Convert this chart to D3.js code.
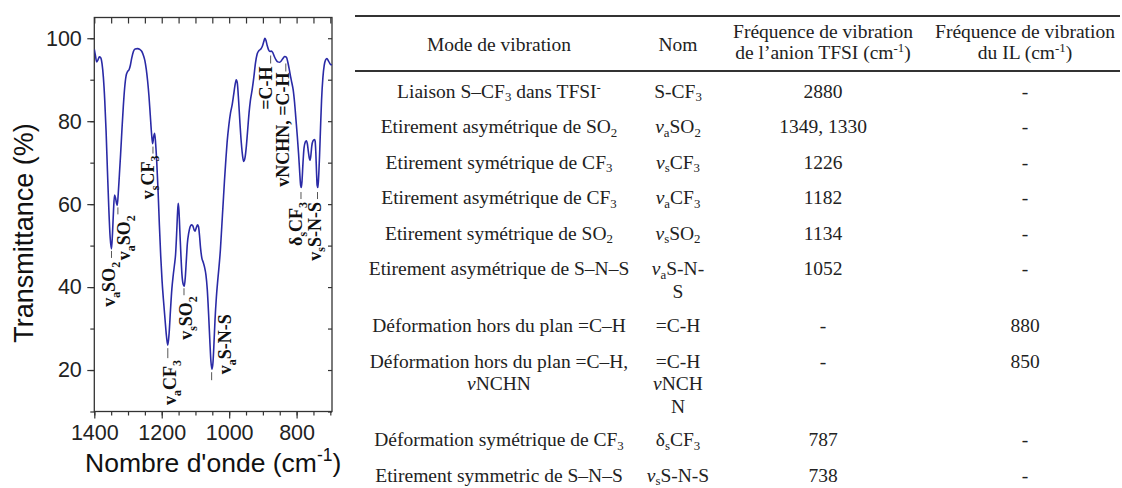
<!DOCTYPE html>
<html><head><meta charset="utf-8">
<script src="https://cdn.jsdelivr.net/npm/d3@7"></script>
<style>
html,body{margin:0;padding:0;background:#fff;}
svg{display:block;}
</style></head>
<body>
<svg id="c" width="1122" height="488"></svg>
<script>
// ---------------- DATA ----------------
const wavenumbers = [1400,1397,1393,1389,1385,1381,1377,1373,1369,1365,1361,1357,1353,1349,1346,1343,1340,1337,1334,1332,1329,1326,1322,1318,1314,1310,1306,1301,1297,1293,1289,1284,1279,1272,1265,1259,1254,1250,1246,1242,1238,1234,1230,1227,1224,1221,1218,1215,1211,1207,1203,1199,1195,1190,1186,1182,1178,1174,1170,1166,1162,1159,1156,1153,1151,1149,1146,1143,1140,1136,1133,1130,1127,1124,1120,1116,1112,1108,1104,1101,1098,1094,1091,1088,1085,1081,1077,1073,1069,1065,1061,1057,1054,1051,1048,1045,1042,1038,1034,1030,1026,1022,1018,1014,1010,1006,1001,996,991,987,983,979,976,972,968,964,960,957,953,949,945,941,937,932,927,922,917,912,906,901,897,894,891,887,883,879,875,871,866,861,856,850,845,840,835,830,826,822,818,814,810,806,802,798,794,791,788,786,784,781,778,774,771,768,765,762,760,758,755,751,747,745,743,741,739,737,735,732,729,726,722,718,714,710,706,702,698,695];
const transmittance = [97.3,96.0,94.3,94.8,95.5,95.3,93.8,90.5,85,77.5,68,59,52,49.2,53,58.5,62.2,61.5,60.2,59.7,62.5,66.5,72,78,83.5,88,90.8,92,92.4,93.5,95.2,96.8,97.4,97.5,97.3,96.8,95.8,94.6,92.6,89.8,86.2,81.5,76.8,74.6,76.2,77.1,74.5,70.5,63.5,55,47.5,41.5,37,32,28.2,26,29,34.5,39.5,42.8,45.5,47.8,52.5,58,60.2,58.5,53,47.5,43,40.6,40.2,42.5,46.5,50.5,53,54.5,55,54.8,53.8,53.5,54.2,55,54.6,52.5,49.5,47,46,44.8,43,39.5,33.5,26.5,22,20.2,21.8,26.5,32,37.5,41.5,45,49,54.5,60,65.5,70.5,75,79,82,84,86.2,88.5,90,89.3,85,79.5,74.8,71.5,70.3,71.2,74,78,82,85,87.5,90.5,94,96.2,97,97.4,98.2,99.3,100,99.5,98.2,97.2,96.8,96.9,96.6,95.6,94.8,94.3,94.2,94.6,95.2,95.6,95.4,94.2,92.6,90.8,89.2,87.5,84.5,80.5,76.5,72,68,64.5,64,65.5,70,73.5,75,75.3,74.5,72.6,71,70.6,71.5,74,75.3,75.6,75.2,72.5,68,64.5,64,66,71.5,78.5,85,90.5,93.5,94.8,95.1,94.6,94,93.6,93.6];

const xTickValues = [1400, 1200, 1000, 800];
const yTickValues = [20, 40, 60, 80, 100];
const xTitle = "Nombre d'onde (cm^{-1})";
const yTitle = "Transmittance (%)";

const peakLabels = ["v_{a}SO_{2}", "v_{a}SO_{2}", "v_{s}CF_{3}", "v_{a}CF_{3}", "v_{s}SO_{2}", "v_{a}S-N-S", "δ_{s}CF_{3}", "v_{s}S-N-S", "=C-H", "vNCHN, =C-H"];
const peakWavenumbers = [1349, 1330, 1226, 1182, 1134, 1052, 787, 738, 877, 832];
const peakTransmittance = [49.2, 59.7, 74.6, 26, 40.2, 20.2, 64, 64, 96.8, 95.6];

const tableHeaders = [["Mode de vibration"], ["Nom"], ["Fréquence de vibration", "de l’anion TFSI (cm^{-1})"], ["Fréquence de vibration", "du IL (cm^{-1})"]];
const vibrationModes = [
  ["Liaison S–CF_{3} dans TFSI^{-}"],
  ["Etirement asymétrique de SO_{2}"],
  ["Etirement symétrique de CF_{3}"],
  ["Etirement asymétrique de CF_{3}"],
  ["Etirement symétrique de SO_{2}"],
  ["Etirement asymétrique de S–N–S"],
  ["Déformation hors du plan =C–H"],
  ["Déformation hors du plan =C–H,", "νNCHN"],
  ["Déformation symétrique de CF_{3}"],
  ["Etirement symmetric de S–N–S"]
];
const vibrationNames = [["S-CF_{3}"], ["ν_{a}SO_{2}"], ["ν_{s}CF_{3}"], ["ν_{a}CF_{3}"], ["ν_{s}SO_{2}"], ["ν_{a}S-N-", "S"], ["=C-H"], ["=C-H", "νNCH", "N"], ["δ_{s}CF_{3}"], ["ν_{s}S-N-S"]];
const tfsiFrequencies = ["2880", "1349, 1330", "1226", "1182", "1134", "1052", "-", "-", "787", "738"];
const ilFrequencies = ["-", "-", "-", "-", "-", "-", "880", "850", "-", "-"];

// ---------------- LAYOUT ----------------
const X0 = 94.3, X1 = 332, Y0 = 17.5, Y1 = 411.5;
const SANS = "'Liberation Sans', Arial, sans-serif";
const SERIF = "'Liberation Serif', 'Times New Roman', serif";
const LFS = 18;
// per label: gap below curve, dash length, baseline x offset, text offset from dash end, anchor
const labelLayout = [
  {gap: 2, len: 7, bx: 4, pad: 4, anchor: "end"},
  {gap: 2, len: 7, bx: 12.5, pad: 1, anchor: "end"},
  {gap: 3, len: 7, bx: 1, pad: 2, anchor: "end"},
  {gap: 3, len: 10, bx: 8.5, pad: 2, anchor: "end"},
  {gap: 2, len: 7, bx: 8, pad: 1, anchor: "end"},
  {gap: 3, len: 8, bx: 19.5, pad: -6, anchor: "start"},
  {gap: 4.5, len: 7, bx: 1, pad: 3, anchor: "end"},
  {gap: 4.5, len: 7, bx: 3, pad: 3, anchor: "end"},
  {gap: 4, len: 8, bx: 1.8, pad: 3, anchor: "end"},
  {gap: 7, len: 8, bx: 3.5, pad: 1, anchor: "end"}
];

const svg = d3.select("#c");

function rich(sel, str, fs, italicNu, subK, supK) {
  const sk = subK === undefined ? 0.27 : subK;
  const pk = supK === undefined ? 0.4 : supK;
  const parts = str.split(/(_\{[^}]*\}|\^\{[^}]*\})/).filter(s => s.length);
  let shift = 0;
  parts.forEach(p => {
    let target = 0, size = fs, txt = p;
    if (p.startsWith("_{")) { target = sk * fs; size = 0.66 * fs; txt = p.slice(2, -1); }
    else if (p.startsWith("^{")) { target = -pk * fs; size = 0.66 * fs; txt = p.slice(2, -1); }
    const segs = italicNu ? txt.split(/(ν)/).filter(s => s.length) : [txt];
    segs.forEach((s, i) => {
      const t = sel.append("tspan").attr("font-size", size).text(s);
      if (i === 0) { t.attr("dy", target - shift); shift = target; }
      if (italicNu && s === "ν") t.attr("font-style", "italic");
    });
  });
}

// ---------------- CHART ----------------
const x = d3.scaleLinear().domain([1400, 695]).range([X0, X1]);
const y = d3.scaleLinear().domain([10, 105]).range([Y1, Y0]);

function styleAxis(s) {
  s.select(".domain").remove();
  s.selectAll("line").attr("stroke", "#333").attr("stroke-width", 1.2);
  s.selectAll("text").attr("font-family", SANS).attr("font-size", 21.5).attr("fill", "#222");
}
const minorX = d3.range(1400, 694, -50);
const minorY = d3.range(10, 106, 10);

// bottom
svg.append("g").attr("transform", `translate(0,${Y1})`)
  .call(d3.axisBottom(x).tickValues(minorX).tickSize(4).tickFormat("")).call(styleAxis);
svg.append("g").attr("transform", `translate(0,${Y1})`)
  .call(d3.axisBottom(x).tickValues(xTickValues).tickSize(7).tickPadding(6).tickFormat(d3.format("d"))).call(styleAxis);
// top (inward)
svg.append("g").attr("transform", `translate(0,${Y0})`)
  .call(d3.axisBottom(x).tickValues(minorX).tickSize(6).tickFormat("")).call(styleAxis);
// left
svg.append("g").attr("transform", `translate(${X0},0)`)
  .call(d3.axisLeft(y).tickValues(minorY).tickSize(4).tickFormat("")).call(styleAxis);
svg.append("g").attr("transform", `translate(${X0},0)`)
  .call(d3.axisLeft(y).tickValues(yTickValues).tickSize(7).tickPadding(5.5).tickFormat(d3.format("d"))).call(styleAxis);
// right (inward)
svg.append("g").attr("transform", `translate(${X1},0)`)
  .call(d3.axisLeft(y).tickValues(minorY).tickSize(4).tickFormat("")).call(styleAxis);

svg.append("rect").attr("x", X0).attr("y", Y0).attr("width", X1 - X0).attr("height", Y1 - Y0)
  .attr("fill", "none").attr("stroke", "#333").attr("stroke-width", 1.3);

svg.append("clipPath").attr("id", "clip").append("rect")
  .attr("x", X0).attr("y", Y0).attr("width", X1 - X0).attr("height", Y1 - Y0);

const spectrum = wavenumbers.map((w, i) => [w, transmittance[i]]);
svg.append("path").datum(spectrum).attr("clip-path", "url(#clip)")
  .attr("fill", "none").attr("stroke", "#2a2aa6").attr("stroke-width", 1.6)
  .attr("stroke-linejoin", "round")
  .attr("d", d3.line().x(d => x(d[0])).y(d => y(d[1])).curve(d3.curveMonotoneX));

// annotations
peakLabels.forEach((lab, i) => {
  const L = labelLayout[i];
  const dx = x(peakWavenumbers[i]);
  const y0 = y(peakTransmittance[i]) + L.gap;
  const y1 = y0 + L.len;
  svg.append("line").attr("x1", dx).attr("x2", dx).attr("y1", y0).attr("y2", y1)
    .attr("stroke", "#444").attr("stroke-width", 0.9);
  const t = svg.append("text")
    .attr("transform", `translate(${dx + L.bx},${y1 + L.pad}) rotate(-90)`)
    .attr("text-anchor", L.anchor)
    .attr("font-family", SERIF).attr("font-weight", "bold").attr("font-size", LFS).attr("fill", "#111");
  rich(t, lab, LFS, false);
});

// axis titles
const yt = svg.append("text")
  .attr("transform", `translate(33,233) rotate(-90)`)
  .attr("text-anchor", "middle").attr("font-family", SANS).attr("font-size", 27).attr("fill", "#111");
rich(yt, yTitle, 27, false);
const xt = svg.append("text")
  .attr("x", (X0 + X1) / 2).attr("y", 471.5)
  .attr("text-anchor", "middle").attr("font-family", SANS).attr("font-size", 26.5).attr("fill", "#111");
rich(xt, xTitle, 26.5, false);

// ---------------- TABLE ----------------
const colCenters = [499, 678, 823, 1025];
const TFS = 19.5;
const tableLeft = 355, tableRight = 1120;
const table = svg.append("g").attr("font-family", SERIF).attr("fill", "#222");

function cellText(lines, cx, baseY, lh) {
  lines.forEach((ln, k) => {
    const t = table.append("text").attr("x", cx).attr("y", baseY + k * lh)
      .attr("text-anchor", "middle").attr("font-size", TFS).attr("fill", "#222");
    rich(t, ln, TFS, true, 0.2, 0.32);
  });
}

// rules
[16, 71].forEach(yy => {
  table.append("line").attr("x1", tableLeft).attr("x2", tableRight).attr("y1", yy).attr("y2", yy)
    .attr("stroke", "#333").attr("stroke-width", 2.2);
});

// header
tableHeaders.forEach((h, c) => {
  if (h.length === 1) cellText(h, colCenters[c], 51, 20);
  else cellText(h, colCenters[c], 37.5, 21);
});

// rows
let base = 97.5;
vibrationModes.forEach((m, r) => {
  const lines = Math.max(m.length, vibrationNames[r].length);
  cellText(m, colCenters[0], base, 22);
  cellText(vibrationNames[r], colCenters[1], base, 22.5);
  cellText([tfsiFrequencies[r]], colCenters[2], base, 22);
  cellText([ilFrequencies[r]], colCenters[3], base, 22);
  base += 35.5 + 21.5 * (lines - 1);
});
</script>
</body></html>
